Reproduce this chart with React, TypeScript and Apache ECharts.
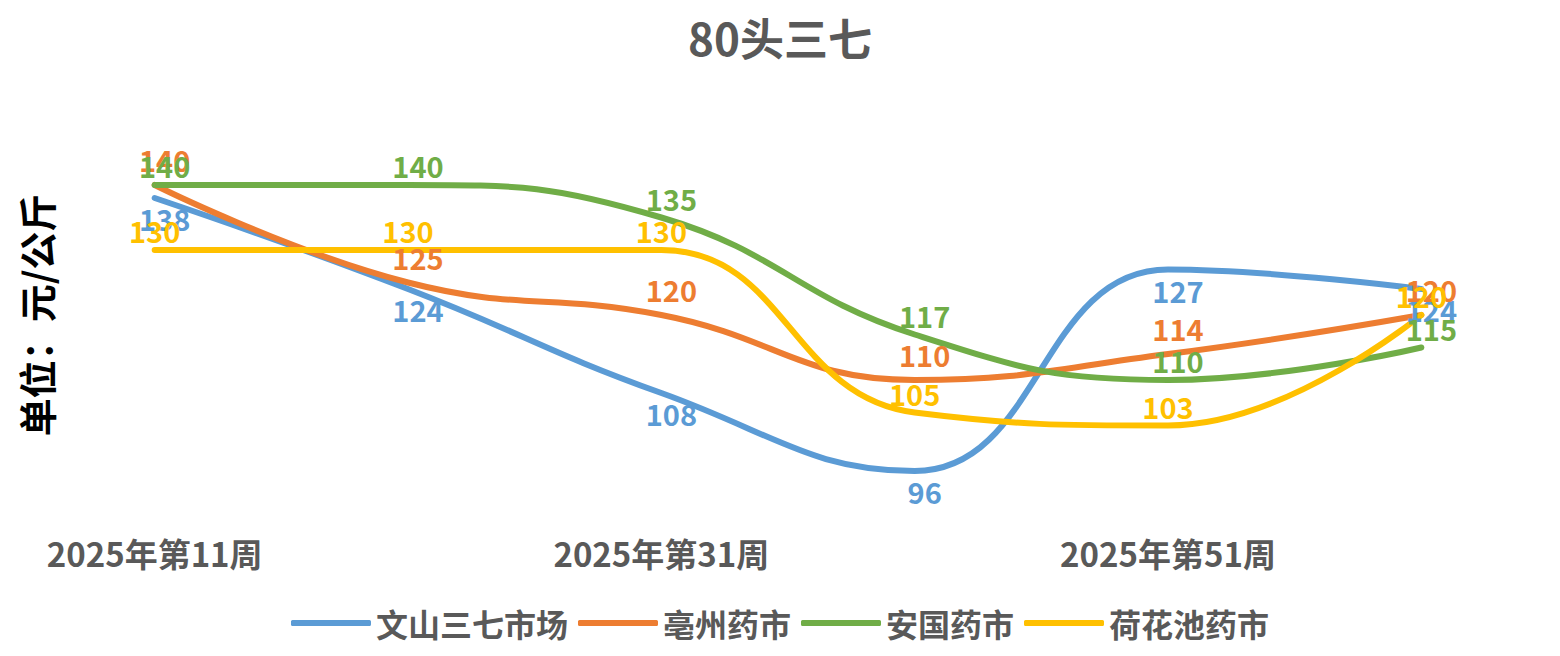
import React, { useEffect, useRef } from "react";
import * as echarts from "echarts";

const categories = ["2025年第11周", "2025年第21周", "2025年第31周", "2025年第41周", "2025年第51周", "2026年第11周"];
const wenshan = [138, 124, 108, 96, 127, 124];
const bozhou = [140, 125, 120, 110, 114, 120];
const anguo = [140, 140, 135, 117, 110, 115];
const hehuachi = [130, 130, 130, 105, 103, 120];

const font = "'Noto Sans CJK SC', 'Open Sans', sans-serif";

export default function App() {
    const chartRef = useRef<HTMLDivElement>(null);

    useEffect(() => {
        if (chartRef.current === null) return;
        const chart = echarts.init(chartRef.current, undefined, { renderer: "svg" });

        const mk = (name: string, data: number[], color: string, position: any, offset: number[]) => ({
            name,
            type: "line" as const,
            data,
            smooth: 0.45,
            symbol: "circle",
            symbolSize: 1,
            showSymbol: true,
            lineStyle: { width: 6, color, cap: "round" as const },
            itemStyle: { color },
            label: {
                show: true,
                position,
                offset,
                color,
                fontSize: 29,
                fontWeight: "bold" as const,
                fontFamily: font,
            },
        });

        chart.setOption({
            animation: false,
            title: {
                text: "80头三七",
                left: "center",
                top: 2,
                textStyle: { fontSize: 44, fontWeight: "bold", color: "#595959", fontFamily: font },
            },
            legend: {
                bottom: 4,
                itemWidth: 80,
                itemHeight: 6,
                itemGap: 10,
                icon: "roundRect",
                textStyle: { fontSize: 32, fontWeight: "bold", color: "#595959", fontFamily: font },
            },
            grid: { left: 13, right: 4, top: 112, bottom: 138 },
            xAxis: {
                type: "category",
                data: categories,
                boundaryGap: true,
                axisLine: { show: false },
                axisTick: { show: false },
                axisLabel: {
                    color: "#595959",
                    fontSize: 33,
                    fontWeight: "bold",
                    fontFamily: font,
                    margin: 26,
                },
            },
            yAxis: {
                type: "value",
                min: 90,
                max: 150,
                name: "单位：元/公斤",
                nameLocation: "middle",
                nameRotate: 90,
                nameGap: -26,
                nameTextStyle: { fontSize: 38, fontWeight: "bold", color: "#000", fontFamily: font },
                axisLine: { show: false },
                axisTick: { show: false },
                axisLabel: { show: false },
                splitLine: { show: false },
            },
            series: [
                mk("文山三七市场", wenshan, "#5B9BD5", "bottom", [10, 0]),
                mk("亳州药市", bozhou, "#ED7D31", "top", [10, -6]),
                mk("安国药市", anguo, "#70AD47", "top", [10, 0]),
                mk("荷花池药市", hehuachi, "#FFC000", "top", [0, 0]),
            ],
        });

        return () => chart.dispose();
    }, []);

    return <div ref={chartRef} style={{ width: 1544, height: 640 }} />;
}
